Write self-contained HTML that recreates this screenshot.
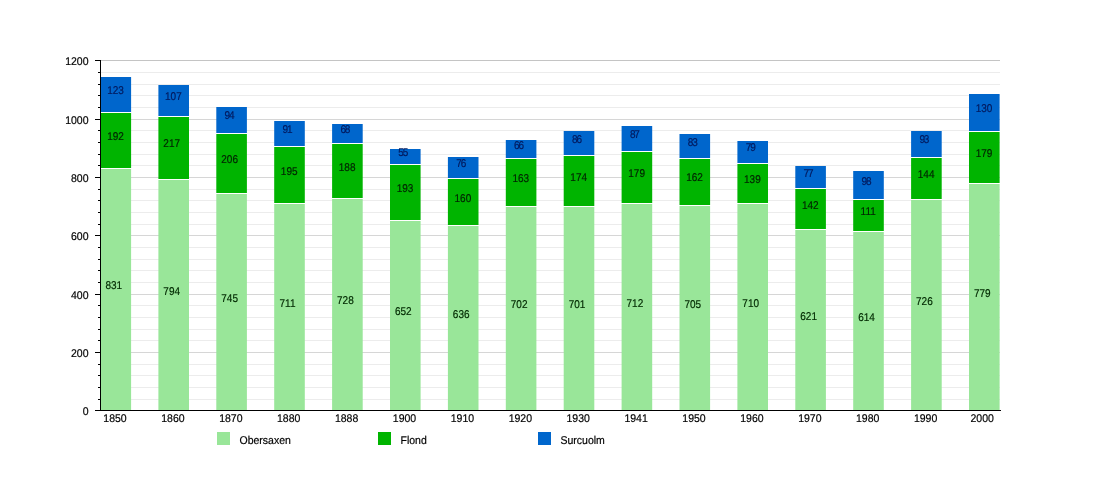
<!DOCTYPE html><html><head><meta charset="utf-8"><style>html,body{margin:0;padding:0;background:#fff;}svg{display:block;}text{text-rendering:geometricPrecision;font-family:"Liberation Sans",sans-serif;font-size:10.5px;fill:#000;stroke:#000;stroke-width:0.18px;}</style></head><body>
<svg width="1100" height="500" viewBox="0 0 1100 500">
<rect width="1100" height="500" fill="#fff"/>
<g shape-rendering="crispEdges"><rect x="101" y="399" width="899" height="1" fill="#ececec"/><rect x="101" y="387" width="899" height="1" fill="#ececec"/><rect x="101" y="375" width="899" height="1" fill="#ececec"/><rect x="101" y="364" width="899" height="1" fill="#ececec"/><rect x="101" y="352" width="899" height="1" fill="#d6d6d6"/><rect x="101" y="340" width="899" height="1" fill="#ececec"/><rect x="101" y="329" width="899" height="1" fill="#ececec"/><rect x="101" y="317" width="899" height="1" fill="#ececec"/><rect x="101" y="305" width="899" height="1" fill="#ececec"/><rect x="101" y="294" width="899" height="1" fill="#d6d6d6"/><rect x="101" y="282" width="899" height="1" fill="#ececec"/><rect x="101" y="270" width="899" height="1" fill="#ececec"/><rect x="101" y="259" width="899" height="1" fill="#ececec"/><rect x="101" y="247" width="899" height="1" fill="#ececec"/><rect x="101" y="235" width="899" height="1" fill="#d6d6d6"/><rect x="101" y="224" width="899" height="1" fill="#ececec"/><rect x="101" y="212" width="899" height="1" fill="#ececec"/><rect x="101" y="200" width="899" height="1" fill="#ececec"/><rect x="101" y="189" width="899" height="1" fill="#ececec"/><rect x="101" y="177" width="899" height="1" fill="#d6d6d6"/><rect x="101" y="165" width="899" height="1" fill="#ececec"/><rect x="101" y="154" width="899" height="1" fill="#ececec"/><rect x="101" y="142" width="899" height="1" fill="#ececec"/><rect x="101" y="130" width="899" height="1" fill="#ececec"/><rect x="101" y="119" width="899" height="1" fill="#d6d6d6"/><rect x="101" y="107" width="899" height="1" fill="#ececec"/><rect x="101" y="95" width="899" height="1" fill="#ececec"/><rect x="101" y="84" width="899" height="1" fill="#ececec"/><rect x="101" y="72" width="899" height="1" fill="#ececec"/><rect x="101" y="60" width="899" height="1" fill="#c4c4c4"/></g>
<g><rect x="100.50" y="169" width="30.6" height="241" fill="#99e699"/><rect x="100.50" y="113" width="30.6" height="55" fill="#00b400"/><rect x="100.50" y="77" width="30.6" height="35" fill="#0066cc"/><rect x="158.40" y="180" width="30.6" height="230" fill="#99e699"/><rect x="158.40" y="117" width="30.6" height="62" fill="#00b400"/><rect x="158.40" y="85" width="30.6" height="31" fill="#0066cc"/><rect x="216.30" y="194" width="30.6" height="216" fill="#99e699"/><rect x="216.30" y="134" width="30.6" height="59" fill="#00b400"/><rect x="216.30" y="107" width="30.6" height="26" fill="#0066cc"/><rect x="274.20" y="204" width="30.6" height="206" fill="#99e699"/><rect x="274.20" y="147" width="30.6" height="56" fill="#00b400"/><rect x="274.20" y="121" width="30.6" height="25" fill="#0066cc"/><rect x="332.10" y="199" width="30.6" height="211" fill="#99e699"/><rect x="332.10" y="144" width="30.6" height="54" fill="#00b400"/><rect x="332.10" y="124" width="30.6" height="19" fill="#0066cc"/><rect x="390.00" y="221" width="30.6" height="189" fill="#99e699"/><rect x="390.00" y="165" width="30.6" height="55" fill="#00b400"/><rect x="390.00" y="149" width="30.6" height="15" fill="#0066cc"/><rect x="447.90" y="226" width="30.6" height="184" fill="#99e699"/><rect x="447.90" y="179" width="30.6" height="46" fill="#00b400"/><rect x="447.90" y="157" width="30.6" height="21" fill="#0066cc"/><rect x="505.80" y="207" width="30.6" height="203" fill="#99e699"/><rect x="505.80" y="159" width="30.6" height="47" fill="#00b400"/><rect x="505.80" y="140" width="30.6" height="18" fill="#0066cc"/><rect x="563.70" y="207" width="30.6" height="203" fill="#99e699"/><rect x="563.70" y="156" width="30.6" height="50" fill="#00b400"/><rect x="563.70" y="131" width="30.6" height="24" fill="#0066cc"/><rect x="621.60" y="204" width="30.6" height="206" fill="#99e699"/><rect x="621.60" y="152" width="30.6" height="51" fill="#00b400"/><rect x="621.60" y="126" width="30.6" height="25" fill="#0066cc"/><rect x="679.50" y="206" width="30.6" height="204" fill="#99e699"/><rect x="679.50" y="159" width="30.6" height="46" fill="#00b400"/><rect x="679.50" y="134" width="30.6" height="24" fill="#0066cc"/><rect x="737.40" y="204" width="30.6" height="206" fill="#99e699"/><rect x="737.40" y="164" width="30.6" height="39" fill="#00b400"/><rect x="737.40" y="141" width="30.6" height="22" fill="#0066cc"/><rect x="795.30" y="230" width="30.6" height="180" fill="#99e699"/><rect x="795.30" y="189" width="30.6" height="40" fill="#00b400"/><rect x="795.30" y="166" width="30.6" height="22" fill="#0066cc"/><rect x="853.20" y="232" width="30.6" height="178" fill="#99e699"/><rect x="853.20" y="200" width="30.6" height="31" fill="#00b400"/><rect x="853.20" y="171" width="30.6" height="28" fill="#0066cc"/><rect x="911.10" y="200" width="30.6" height="210" fill="#99e699"/><rect x="911.10" y="158" width="30.6" height="41" fill="#00b400"/><rect x="911.10" y="131" width="30.6" height="26" fill="#0066cc"/><rect x="969.00" y="184" width="30.6" height="226" fill="#99e699"/><rect x="969.00" y="132" width="30.6" height="51" fill="#00b400"/><rect x="969.00" y="94" width="30.6" height="37" fill="#0066cc"/></g>
<g shape-rendering="crispEdges"><rect x="100" y="60" width="1" height="351" fill="#000"/><rect x="95" y="410" width="906" height="1" fill="#000"/><rect x="95" y="410" width="5" height="1" fill="#000"/><rect x="98" y="399" width="2" height="1" fill="#000"/><rect x="98" y="387" width="2" height="1" fill="#000"/><rect x="98" y="375" width="2" height="1" fill="#000"/><rect x="98" y="364" width="2" height="1" fill="#000"/><rect x="95" y="352" width="5" height="1" fill="#000"/><rect x="98" y="340" width="2" height="1" fill="#000"/><rect x="98" y="329" width="2" height="1" fill="#000"/><rect x="98" y="317" width="2" height="1" fill="#000"/><rect x="98" y="305" width="2" height="1" fill="#000"/><rect x="95" y="294" width="5" height="1" fill="#000"/><rect x="98" y="282" width="2" height="1" fill="#000"/><rect x="98" y="270" width="2" height="1" fill="#000"/><rect x="98" y="259" width="2" height="1" fill="#000"/><rect x="98" y="247" width="2" height="1" fill="#000"/><rect x="95" y="235" width="5" height="1" fill="#000"/><rect x="98" y="224" width="2" height="1" fill="#000"/><rect x="98" y="212" width="2" height="1" fill="#000"/><rect x="98" y="200" width="2" height="1" fill="#000"/><rect x="98" y="189" width="2" height="1" fill="#000"/><rect x="95" y="177" width="5" height="1" fill="#000"/><rect x="98" y="165" width="2" height="1" fill="#000"/><rect x="98" y="154" width="2" height="1" fill="#000"/><rect x="98" y="142" width="2" height="1" fill="#000"/><rect x="98" y="130" width="2" height="1" fill="#000"/><rect x="95" y="119" width="5" height="1" fill="#000"/><rect x="98" y="107" width="2" height="1" fill="#000"/><rect x="98" y="95" width="2" height="1" fill="#000"/><rect x="98" y="84" width="2" height="1" fill="#000"/><rect x="98" y="72" width="2" height="1" fill="#000"/><rect x="95" y="60" width="5" height="1" fill="#000"/></g>
<rect x="217" y="432" width="13" height="13" fill="#99e699"/>
<rect x="378" y="432" width="13" height="13" fill="#00b400"/>
<rect x="538" y="432" width="13" height="13" fill="#0066cc"/>
<g style="will-change:transform"><text transform="translate(113.80,289.00) scale(1,1.13)" text-anchor="middle" style="fill:#002a00;stroke:#002a00;font-size:10px">831</text><text transform="translate(115.50,140.00) scale(1,1.13)" text-anchor="middle" style="fill:#002400;stroke:#002400;font-size:10px">192</text><text transform="translate(115.50,94.00) scale(1,1.13)" text-anchor="middle" style="fill:#001a5e;stroke:#001a5e;font-size:10px">123</text><text transform="translate(115.00,422) scale(1,1.07)" text-anchor="middle">1850</text><text transform="translate(171.70,295.00) scale(1,1.13)" text-anchor="middle" style="fill:#002a00;stroke:#002a00;font-size:10px">794</text><text transform="translate(171.70,147.00) scale(1,1.13)" text-anchor="middle" style="fill:#002400;stroke:#002400;font-size:10px">217</text><text transform="translate(173.40,100.00) scale(1,1.13)" text-anchor="middle" style="fill:#001a5e;stroke:#001a5e;font-size:10px">107</text><text transform="translate(172.90,422) scale(1,1.07)" text-anchor="middle">1860</text><text transform="translate(229.60,302.00) scale(1,1.13)" text-anchor="middle" style="fill:#002a00;stroke:#002a00;font-size:10px">745</text><text transform="translate(229.60,163.00) scale(1,1.13)" text-anchor="middle" style="fill:#002400;stroke:#002400;font-size:10px">206</text><text transform="translate(229.60,119.00) scale(1,1.13)" text-anchor="middle" textLength="10" lengthAdjust="spacing" style="fill:#001a5e;stroke:#001a5e;font-size:10px">94</text><text transform="translate(230.80,422) scale(1,1.07)" text-anchor="middle">1870</text><text transform="translate(287.50,307.00) scale(1,1.13)" text-anchor="middle" style="fill:#002a00;stroke:#002a00;font-size:10px">711</text><text transform="translate(289.20,175.00) scale(1,1.13)" text-anchor="middle" style="fill:#002400;stroke:#002400;font-size:10px">195</text><text transform="translate(287.50,133.00) scale(1,1.13)" text-anchor="middle" textLength="10" lengthAdjust="spacing" style="fill:#001a5e;stroke:#001a5e;font-size:10px">91</text><text transform="translate(288.70,422) scale(1,1.07)" text-anchor="middle">1880</text><text transform="translate(345.40,304.00) scale(1,1.13)" text-anchor="middle" style="fill:#002a00;stroke:#002a00;font-size:10px">728</text><text transform="translate(347.10,171.00) scale(1,1.13)" text-anchor="middle" style="fill:#002400;stroke:#002400;font-size:10px">188</text><text transform="translate(345.40,133.00) scale(1,1.13)" text-anchor="middle" textLength="10" lengthAdjust="spacing" style="fill:#001a5e;stroke:#001a5e;font-size:10px">68</text><text transform="translate(346.60,422) scale(1,1.07)" text-anchor="middle">1888</text><text transform="translate(403.30,315.00) scale(1,1.13)" text-anchor="middle" style="fill:#002a00;stroke:#002a00;font-size:10px">652</text><text transform="translate(405.00,192.00) scale(1,1.13)" text-anchor="middle" style="fill:#002400;stroke:#002400;font-size:10px">193</text><text transform="translate(403.30,156.00) scale(1,1.13)" text-anchor="middle" textLength="10" lengthAdjust="spacing" style="fill:#001a5e;stroke:#001a5e;font-size:10px">55</text><text transform="translate(404.50,422) scale(1,1.07)" text-anchor="middle">1900</text><text transform="translate(461.20,318.00) scale(1,1.13)" text-anchor="middle" style="fill:#002a00;stroke:#002a00;font-size:10px">636</text><text transform="translate(462.90,202.00) scale(1,1.13)" text-anchor="middle" style="fill:#002400;stroke:#002400;font-size:10px">160</text><text transform="translate(461.20,167.00) scale(1,1.13)" text-anchor="middle" textLength="10" lengthAdjust="spacing" style="fill:#001a5e;stroke:#001a5e;font-size:10px">76</text><text transform="translate(462.40,422) scale(1,1.07)" text-anchor="middle">1910</text><text transform="translate(519.10,308.00) scale(1,1.13)" text-anchor="middle" style="fill:#002a00;stroke:#002a00;font-size:10px">702</text><text transform="translate(520.80,182.00) scale(1,1.13)" text-anchor="middle" style="fill:#002400;stroke:#002400;font-size:10px">163</text><text transform="translate(519.10,149.00) scale(1,1.13)" text-anchor="middle" textLength="10" lengthAdjust="spacing" style="fill:#001a5e;stroke:#001a5e;font-size:10px">66</text><text transform="translate(520.30,422) scale(1,1.07)" text-anchor="middle">1920</text><text transform="translate(577.00,308.00) scale(1,1.13)" text-anchor="middle" style="fill:#002a00;stroke:#002a00;font-size:10px">701</text><text transform="translate(578.70,181.00) scale(1,1.13)" text-anchor="middle" style="fill:#002400;stroke:#002400;font-size:10px">174</text><text transform="translate(577.00,143.00) scale(1,1.13)" text-anchor="middle" textLength="10" lengthAdjust="spacing" style="fill:#001a5e;stroke:#001a5e;font-size:10px">86</text><text transform="translate(578.20,422) scale(1,1.07)" text-anchor="middle">1930</text><text transform="translate(634.90,307.00) scale(1,1.13)" text-anchor="middle" style="fill:#002a00;stroke:#002a00;font-size:10px">712</text><text transform="translate(636.60,177.00) scale(1,1.13)" text-anchor="middle" style="fill:#002400;stroke:#002400;font-size:10px">179</text><text transform="translate(634.90,138.00) scale(1,1.13)" text-anchor="middle" textLength="10" lengthAdjust="spacing" style="fill:#001a5e;stroke:#001a5e;font-size:10px">87</text><text transform="translate(636.10,422) scale(1,1.07)" text-anchor="middle">1941</text><text transform="translate(692.80,308.00) scale(1,1.13)" text-anchor="middle" style="fill:#002a00;stroke:#002a00;font-size:10px">705</text><text transform="translate(694.50,181.00) scale(1,1.13)" text-anchor="middle" style="fill:#002400;stroke:#002400;font-size:10px">162</text><text transform="translate(692.80,146.00) scale(1,1.13)" text-anchor="middle" textLength="10" lengthAdjust="spacing" style="fill:#001a5e;stroke:#001a5e;font-size:10px">83</text><text transform="translate(694.00,422) scale(1,1.07)" text-anchor="middle">1950</text><text transform="translate(750.70,307.00) scale(1,1.13)" text-anchor="middle" style="fill:#002a00;stroke:#002a00;font-size:10px">710</text><text transform="translate(752.40,183.00) scale(1,1.13)" text-anchor="middle" style="fill:#002400;stroke:#002400;font-size:10px">139</text><text transform="translate(750.70,151.00) scale(1,1.13)" text-anchor="middle" textLength="10" lengthAdjust="spacing" style="fill:#001a5e;stroke:#001a5e;font-size:10px">79</text><text transform="translate(751.90,422) scale(1,1.07)" text-anchor="middle">1960</text><text transform="translate(808.60,320.00) scale(1,1.13)" text-anchor="middle" style="fill:#002a00;stroke:#002a00;font-size:10px">621</text><text transform="translate(810.30,209.00) scale(1,1.13)" text-anchor="middle" style="fill:#002400;stroke:#002400;font-size:10px">142</text><text transform="translate(808.60,177.00) scale(1,1.13)" text-anchor="middle" textLength="10" lengthAdjust="spacing" style="fill:#001a5e;stroke:#001a5e;font-size:10px">77</text><text transform="translate(809.80,422) scale(1,1.07)" text-anchor="middle">1970</text><text transform="translate(866.50,321.00) scale(1,1.13)" text-anchor="middle" style="fill:#002a00;stroke:#002a00;font-size:10px">614</text><text transform="translate(868.20,215.00) scale(1,1.13)" text-anchor="middle" style="fill:#002400;stroke:#002400;font-size:10px">111</text><text transform="translate(866.50,185.00) scale(1,1.13)" text-anchor="middle" textLength="10" lengthAdjust="spacing" style="fill:#001a5e;stroke:#001a5e;font-size:10px">98</text><text transform="translate(867.70,422) scale(1,1.07)" text-anchor="middle">1980</text><text transform="translate(924.40,305.00) scale(1,1.13)" text-anchor="middle" style="fill:#002a00;stroke:#002a00;font-size:10px">726</text><text transform="translate(926.10,178.00) scale(1,1.13)" text-anchor="middle" style="fill:#002400;stroke:#002400;font-size:10px">144</text><text transform="translate(924.40,143.00) scale(1,1.13)" text-anchor="middle" textLength="10" lengthAdjust="spacing" style="fill:#001a5e;stroke:#001a5e;font-size:10px">93</text><text transform="translate(925.60,422) scale(1,1.07)" text-anchor="middle">1990</text><text transform="translate(982.30,297.00) scale(1,1.13)" text-anchor="middle" style="fill:#002a00;stroke:#002a00;font-size:10px">779</text><text transform="translate(984.00,157.00) scale(1,1.13)" text-anchor="middle" style="fill:#002400;stroke:#002400;font-size:10px">179</text><text transform="translate(984.00,112.00) scale(1,1.13)" text-anchor="middle" style="fill:#001a5e;stroke:#001a5e;font-size:10px">130</text><text transform="translate(982.20,422) scale(1,1.07)" text-anchor="middle">2000</text><text transform="translate(88.5,415) scale(1,1.07)" text-anchor="end">0</text><text transform="translate(88.5,357) scale(1,1.07)" text-anchor="end">200</text><text transform="translate(88.5,299) scale(1,1.07)" text-anchor="end">400</text><text transform="translate(88.5,240) scale(1,1.07)" text-anchor="end">600</text><text transform="translate(88.5,182) scale(1,1.07)" text-anchor="end">800</text><text transform="translate(88.5,124) scale(1,1.07)" text-anchor="end">1000</text><text transform="translate(88.5,65) scale(1,1.07)" text-anchor="end">1200</text><text transform="translate(239.5,444) scale(1,1.07)">Obersaxen</text><text transform="translate(400.5,444) scale(1,1.07)">Flond</text><text transform="translate(560.5,444) scale(1,1.07)">Surcuolm</text></g>
</svg></body></html>
